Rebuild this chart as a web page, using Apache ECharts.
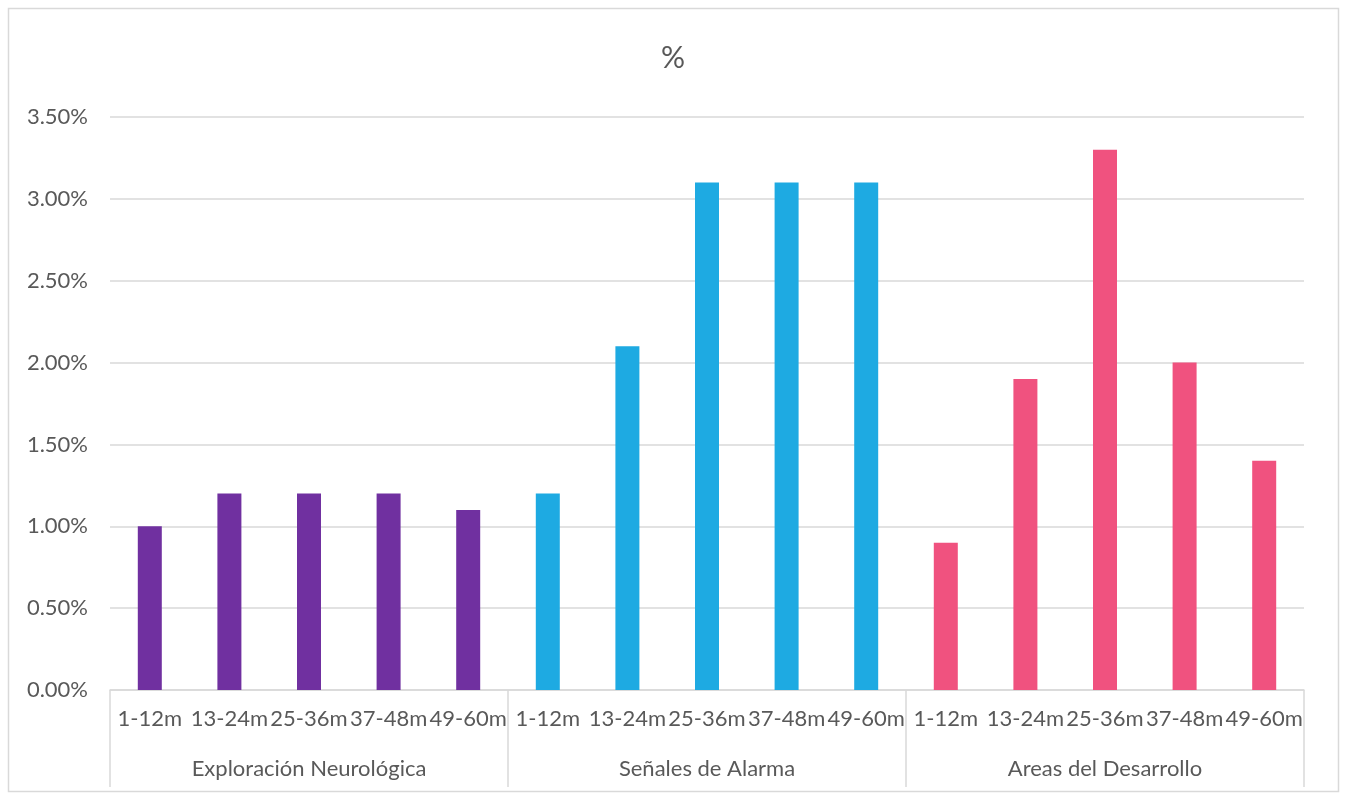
<!DOCTYPE html>
<html>
<head>
<meta charset="utf-8">
<script src="https://cdn.jsdelivr.net/npm/echarts@6/dist/echarts.min.js"></script>
<style>
  html, body { margin: 0; padding: 0; background: #ffffff; }
  #chart { width: 1346px; height: 795px; }
</style>
</head>
<body>
<div id="chart"></div>
<script>
// Age bands repeated inside each evaluation block
const ageBands = ['1-12m', '13-24m', '25-36m', '37-48m', '49-60m'];
// Evaluation blocks (outer axis level)
const groups = ['Exploración Neurológica', 'Señales de Alarma', 'Areas del Desarrollo'];
// Percent values per block, one per age band
const neuro = [1.0, 1.2, 1.2, 1.2, 1.1];
const alarma = [1.2, 2.1, 3.1, 3.1, 3.1];
const desarrollo = [0.9, 1.9, 3.3, 2.0, 1.4];
// Value axis range
const yMin = 0, yMax = 3.5, yStep = 0.5;

const groupColors = ['#7030A0', '#1EAAE2', '#F0527F'];
const groupValues = [neuro, alarma, desarrollo];

// Flatten into the 15-slot category axis
const categories = [];
const barData = [];
groupValues.forEach((vals, g) => {
  vals.forEach((v, i) => {
    categories.push(ageBands[i]);
    barData.push({ value: v, itemStyle: { color: groupColors[g] } });
  });
});

const textColor = '#595959';
const lineColor = '#d9d9d9';
const font = 'Lato, "Open Sans", sans-serif';

const chart = echarts.init(document.getElementById('chart'), null, { renderer: 'canvas' });
chart.setOption({
  animation: false,
  backgroundColor: '#ffffff',
  title: {
    text: '%',
    left: 'center',
    top: 38,
    textStyle: { color: textColor, fontSize: 30, fontWeight: 'normal', fontFamily: font }
  },
  graphic: [{
    type: 'rect',
    shape: { x: 8.5, y: 8.5, width: 1330, height: 783 },
    style: { fill: 'none', stroke: lineColor, lineWidth: 1.5 },
    silent: true
  }],
  grid: { left: 110, right: 42, top: 117, bottom: 105, containLabel: false },
  xAxis: [
    {
      type: 'category',
      data: categories,
      position: 'bottom',
      axisLine: { show: true, lineStyle: { color: lineColor, width: 1.5 } },
      axisTick: { show: false },
      axisLabel: {
        interval: 0,
        margin: 18,
        color: textColor,
        fontSize: 22,
        fontFamily: font
      }
    },
    {
      type: 'category',
      data: groups,
      position: 'bottom',
      axisLine: { show: false },
      axisTick: {
        show: true,
        interval: 0,
        length: 97,
        lineStyle: { color: lineColor, width: 1.5 }
      },
      axisLabel: {
        interval: 0,
        margin: 68,
        color: textColor,
        fontSize: 22,
        fontFamily: font
      },
      splitLine: { show: false }
    }
  ],
  yAxis: {
    type: 'value',
    min: yMin,
    max: yMax,
    interval: yStep,
    axisLine: { show: false },
    axisTick: { show: false },
    axisLabel: {
      margin: 22,
      color: textColor,
      fontSize: 22,
      fontFamily: font,
      formatter: v => v.toFixed(2) + '%'
    },
    splitLine: { lineStyle: { color: lineColor, width: 1.5 } }
  },
  series: [{
    type: 'bar',
    xAxisIndex: 0,
    data: barData,
    barWidth: 24
  }]
});
</script>
</body>
</html>
